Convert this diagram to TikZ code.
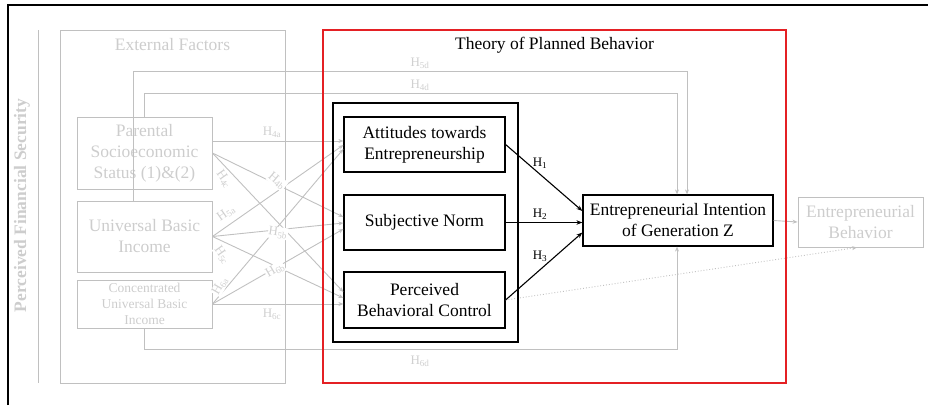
\documentclass[tikz,border=0pt]{standalone}
\usepackage{fontspec}
\setmainfont{Liberation Serif}
\usetikzlibrary{arrows.meta,calc}
\definecolor{lineg}{RGB}{192,192,192}
\definecolor{textg}{RGB}{205,205,205}
\definecolor{labg}{RGB}{208,208,208}
\definecolor{tpbred}{RGB}{228,32,36}

\begin{document}
\begin{tikzpicture}[x=1pt,y=-1pt,
  big/.style={font=\fontsize{17.5}{21}\selectfont},
  small/.style={font=\fontsize{13.5}{16}\selectfont},
  gbox/.style={draw=lineg, line width=0.9pt, text=textg, align=center, inner sep=0pt},
  bbox/.style={draw=black, line width=1.2pt, align=center, inner sep=0pt, big},
  frame/.style={inner sep=0pt},
  gline/.style={draw=lineg, line width=0.9pt},
  garrow/.style={gline, -{Stealth[length=5pt,width=4pt]}},
  barrow/.style={draw=black, line width=1.1pt, -{Stealth[length=6pt,width=4.5pt]}},
  hlab/.style={text=labg, fill=white, inner sep=0.5pt, font=\fontsize{13}{13}\selectfont},
  blab/.style={text=black, inner sep=0pt, font=\fontsize{13}{13}\selectfont},
]
\useasboundingbox (0,0) rectangle (928,405);

% outer frame (top and left edges)
\draw[line width=1.5pt] (8,405) -- (8,5) -- (928,5);

% side axis
\draw[gline] (38,30) -- (38,383);
\node[rotate=90, text=textg, font=\bfseries\fontsize{17.5}{21}\selectfont] (pfs) at (22,205.5) {Perceived Financial Security};

% external factors
\node[frame, draw=lineg, line width=0.9pt, minimum width=225, minimum height=353] (ext) at (172.5,206.5) {};
\node[big, text=textg] (extt) at (172.5,45) {External Factors};
\node[gbox, big, minimum width=135, minimum height=72] (pss) at (144.5,153) {Parental\\Socioeconomic\\Status (1)\&(2)};
\node[gbox, big, minimum width=135, minimum height=71] (ubi) at (144.5,236.5) {Universal Basic\\Income};
\node[gbox, small, minimum width=135, minimum height=48] (cubi) at (144.5,304) {Concentrated\\Universal Basic\\Income};

% theory of planned behavior constructs
\node[bbox, minimum width=161, minimum height=55] (att) at (424.5,144.5) {Attitudes towards\\Entrepreneurship};
\node[bbox, minimum width=161, minimum height=55] (sn) at (424.5,222.5) {Subjective Norm};
\node[bbox, minimum width=161, minimum height=56] (pbc) at (424.5,300) {Perceived\\Behavioral Control};
\node[bbox, minimum width=190, minimum height=51] (ei) at (678,220.5) {Entrepreneurial Intention\\of Generation Z};
\node[gbox, big, minimum width=125, minimum height=50] (eb) at (860.5,222) {Entrepreneurial\\Behavior};

% direct paths from external factors to intention
\draw[garrow] (pss.north) -- ++(0,-23) -| ([xshift=-1pt]ei.north);
\draw[garrow] ([xshift=-11.5pt]ubi.north) -- ++(0,-129) -| ([xshift=9pt]ei.north);
\draw[garrow] (cubi.south) -- ++(0,21) -| ([xshift=-1pt]ei.south);

% external factors to TPB constructs
\draw[garrow] ([yshift=12pt]pss.east) -- ([yshift=12pt]pss.east -| att.west);
\draw[garrow] (pss.east) -- ([yshift=5.5pt]sn.west);
\draw[garrow] (pss.east) -- ([yshift=8pt]pbc.west);
\draw[garrow] (ubi.east) -- ([yshift=-0.5pt]att.west);
\draw[garrow] (ubi.east) -- ([yshift=-0.5pt]sn.west);
\draw[garrow] (ubi.east) -- ([yshift=2pt]pbc.west);
\draw[garrow] (cubi.east) -- ([yshift=-4.5pt]att.west);
\draw[garrow] (cubi.east) -- ([yshift=-6.5pt]sn.west);
\draw[garrow] (cubi.east) -- (cubi.east -| pbc.west);

% intention to behavior
\draw[garrow] (ei.east) -- (eb.west);
\draw[garrow, dotted] (pbc.east) -- ([xshift=-3.5pt]eb.south);

% hypothesis labels (grey)
\node[hlab] (h4d) at (420,85) {H\textsubscript{4d}};
\node[hlab] (h5d) at (420,63) {H\textsubscript{5d}};
\node[hlab] (h6d) at (420,361) {H\textsubscript{6d}};
\node[hlab] (h4a) at (272,132) {H\textsubscript{4a}};
\node[hlab, rotate=-40] (h4b) at (277,181) {H\textsubscript{4b}};
\node[hlab, rotate=-55] (h4c) at (224,179) {H\textsubscript{4c}};
\node[hlab, rotate=35] (h5a) at (226,213) {H\textsubscript{5a}};
\node[hlab, rotate=-8] (h5b) at (278,233) {H\textsubscript{5b}};
\node[hlab, rotate=-55] (h5c) at (222,255) {H\textsubscript{5c}};
\node[hlab, rotate=60] (h6a) at (220,286) {H\textsubscript{6a}};
\node[hlab, rotate=30] (h6b) at (275,270) {H\textsubscript{6b}};
\node[hlab] (h6c) at (272,314) {H\textsubscript{6c}};

% TPB frame and construct group
\node[frame, draw=tpbred, line width=1.8pt, minimum width=463, minimum height=353] (tpb) at (554.5,206.5) {};
\node[big] (tpbt) at (554.5,45) {Theory of Planned Behavior};
\node[frame, draw=black, line width=2.2pt, minimum width=185, minimum height=239] (grp) at (425.5,222.5) {};

% TPB hypotheses
\draw[barrow] (att.east) -- ([yshift=9.5pt]ei.west);
\draw[barrow] (sn.east) -- (sn.east -| ei.west);
\draw[barrow] (pbc.east) -- ([yshift=-12pt]ei.west);
\node[blab] (h1) at (540,163) {H\textsubscript{1}};
\node[blab] (h2) at (540,214) {H\textsubscript{2}};
\node[blab] (h3) at (540,256) {H\textsubscript{3}};
\end{tikzpicture}
\end{document}
